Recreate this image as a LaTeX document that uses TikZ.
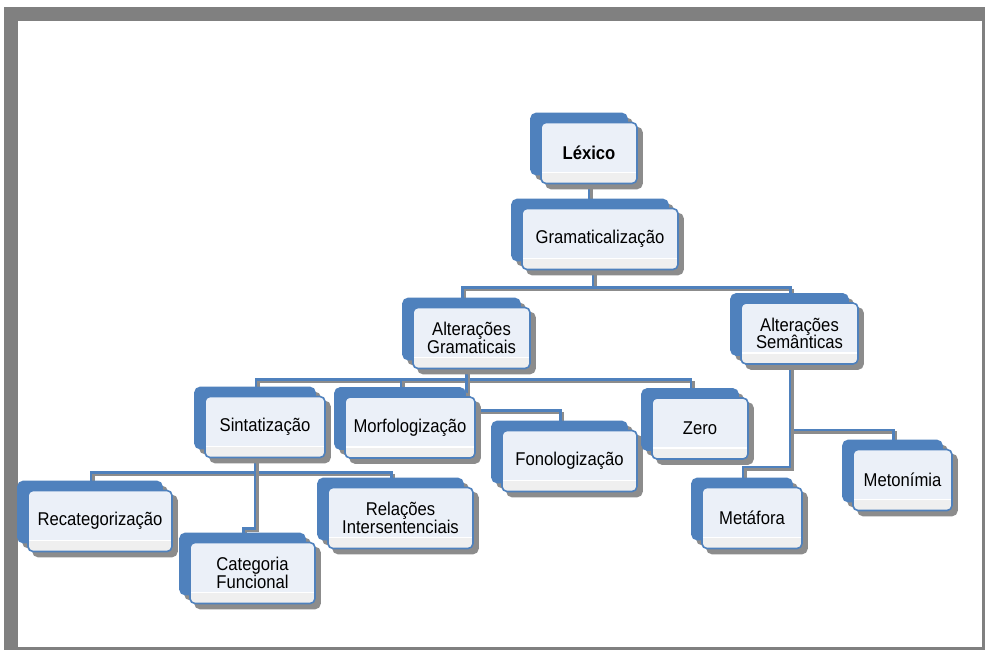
\documentclass[tikz,border=0pt]{standalone}
\usepackage{fontspec}
\setmainfont{Liberation Sans}[FakeStretch=0.9]
\usepackage{tikz}
\usetikzlibrary{shadows}
\usetikzlibrary{backgrounds,calc}
\definecolor{sa-blue}{HTML}{4F81BD}
\definecolor{sa-fill}{HTML}{EBF0F8}
\definecolor{sa-gloss}{HTML}{EFEFEF}
\definecolor{sa-shadow}{HTML}{8C8C8C}
\definecolor{sa-frame}{HTML}{808080}
\newcommand{\boxfont}{\fontsize{18.5}{17.5}\selectfont}

\begin{document}
\begin{tikzpicture}[
    x=1pt, y=-1pt,
    % stacked boxes: grey + blue copies behind, grey drop shadow, light front
    box/.style={draw=sa-blue, line width=1.6pt, fill=sa-fill, rounded corners=5pt,
      minimum height=61pt, inner sep=2pt, align=center, font=\boxfont, text=black,
      copy shadow={shadow xshift=-5pt, shadow yshift=4pt, draw=sa-shadow, fill=sa-shadow},
      copy shadow={shadow xshift=-10pt, shadow yshift=9pt, draw=sa-blue, fill=sa-blue},
      drop shadow={shadow xshift=5pt, shadow yshift=-5pt, draw=sa-shadow, fill=sa-shadow, opacity=1},
      path picture={
        \fill[sa-gloss] ([yshift=11pt]path picture bounding box.south west) rectangle (path picture bounding box.south east);
        \draw[white, line width=1.2pt] ([yshift=11pt]path picture bounding box.south west) -- ([yshift=11pt]path picture bounding box.south east);
      }},
    link/.style={draw=sa-blue, line width=2.6pt,
      preaction={draw=sa-shadow, line width=2.6pt, transform canvas={xshift=2.5pt, yshift=-2.5pt}}}
  ]
  \useasboundingbox (0,0) rectangle (985,650);

  % =========================================================================
  % TOP LEVELS
  % =========================================================================
  \node[box, minimum width=96pt, font=\boxfont\bfseries] (lex) at (589,153) {Léxico};
  \node[box, minimum width=156pt] (gram) at (600,239) {Gramaticalização};

  \node[box, minimum width=117pt] (altgram) at (471.5,338) {Alterações\\Gramaticais};
  \node[box, minimum width=117pt] (altsem) at (799.5,333.5) {Alterações\\Semânticas};

  % =========================================================================
  % GRAMMATICAL CHANGES
  % =========================================================================
  \node[box, minimum width=120pt] (sint) at (265,427) {Sintatização};
  \node[box, minimum width=130pt] (morf) at (410,427.5) {Morfologização};
  \node[box, minimum width=135pt] (fono) at (569.5,461) {Fonologização};
  \node[box, minimum width=96pt] (zero) at (700,428.5) {Zero};

  \node[box, minimum width=144pt] (recat) at (100,521) {Recategorização};
  \node[box, minimum width=125pt] (catf) at (252.5,573) {Categoria\\Funcional};
  \node[box, minimum width=145pt] (relac) at (400.5,518) {Relações\\Intersentenciais};

  % =========================================================================
  % SEMANTIC CHANGES
  % =========================================================================
  \node[box, minimum width=100pt] (metaf) at (752,518) {Metáfora};
  \node[box, minimum width=99pt] (meton) at (902.5,480) {Metonímia};

  % =========================================================================
  % FRAME AND CONNECTORS (behind the boxes)
  % =========================================================================
  \begin{pgfonlayer}{background}
    \fill[white] (0,0) rectangle (985,650);
    \fill[sa-frame] (4,7) rectangle (985,650);
    \fill[white] (18,21) rectangle (982,647);

    \draw[link] (lex) -- (lex |- gram);
    \draw[link] ([xshift=-7pt]gram.south) -- ++(0,17) -| ([xshift=-9pt]altgram.north);
    \draw[link] ([xshift=-7pt]gram.south) -- ++(0,17) -| ([xshift=-9pt]altsem.north);

    \draw[link] ([xshift=-5pt]altgram.south) -- ++(0,10) -| ([xshift=-9pt]sint.north);
    \draw[link] ([xshift=-5pt]altgram.south) -- ++(0,10) -| ([xshift=-9pt]morf.north);
    \draw[link] ([xshift=-5pt]altgram.south) -- ++(0,10) -| ([xshift=-9pt]zero.north);
    \draw[link] ([xshift=-5pt]altgram.south) -- ++(0,41) -| ([xshift=-9pt]fono.north);

    \draw[link] ([xshift=-10pt]sint.south) -- ++(0,14) -| ([xshift=-9pt]recat.north);
    \draw[link] ([xshift=-10pt]sint.south) -- ++(0,14) -| ([xshift=-9pt]relac.north);
    \draw[link] ([xshift=-10pt]sint.south) -- ++(0,70) -| ([xshift=-9pt]catf.north);

    \draw[link] ([xshift=-9.5pt]altsem.south) -- ++(0,65) -| ([xshift=-9pt]meton.north);
    \draw[link] ([xshift=-9.5pt]altsem.south) -- ++(0,102) -| ([xshift=-9pt]metaf.north);
  \end{pgfonlayer}

\end{tikzpicture}
\end{document}
